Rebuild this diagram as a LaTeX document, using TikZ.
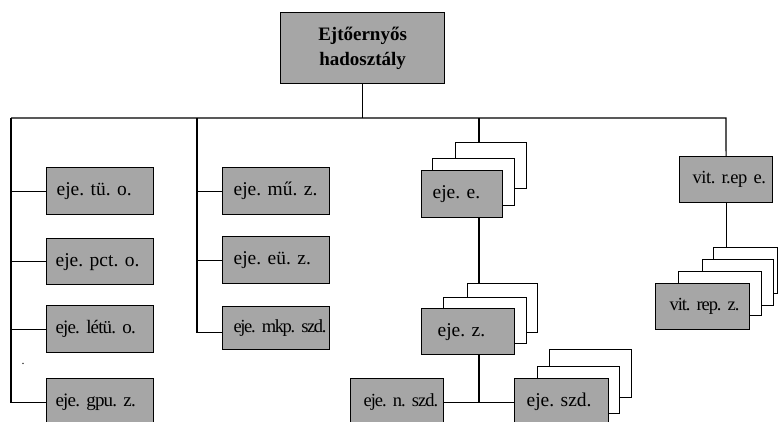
\documentclass[tikz,border=0pt]{standalone}
\usepackage{fontspec}
\setmainfont{Liberation Serif}
\newfontfamily\condfont[WordSpace=0.6]{Liberation Serif}
\definecolor{boxgray}{RGB}{166,166,166}
\tikzset{
  unit/.style={draw=black, line width=1.2pt, fill=boxgray, anchor=north west, inner sep=0pt, align=left},
  card/.style={draw=black, line width=1.2pt, fill=white, anchor=north west, inner sep=0pt},
  link/.style={draw=black, line width=1.2pt},
}
% name, x1, y1, x2, y2, inset, size, family, text
\newcommand{\ubox}[9]{%
  \pgfmathsetmacro{\myw}{#4-#2}\pgfmathsetmacro{\myh}{#5-#3}%
  \pgfmathsetmacro{\myth}{0.68*#7}\pgfmathsetmacro{\mytd}{0.22*#7}%
  \node[unit, minimum height=\myh pt, text width=\myw pt, text height=\myth pt, text depth=\mytd pt,
        font=#8\fontsize{#7}{#7}\selectfont\frenchspacing] (#1) at (#2,#3) {\noindent\hspace*{#6pt}#9};}
% name, x1, y1, x2, y2
\newcommand{\cbox}[5]{%
  \pgfmathsetmacro{\myw}{#4-#2}\pgfmathsetmacro{\myh}{#5-#3}%
  \node[card, minimum width=\myw pt, minimum height=\myh pt] (#1) at (#2,#3) {};}
\newcommand{\cond}[1]{\condfont\addfontfeatures{LetterSpace=#1}}
\begin{document}
\frenchspacing
\begin{tikzpicture}[x=1pt, y=-1pt]
\clip (0,0) rectangle (778,422);
\fill[white] (0,0) rectangle (778,422);

% top unit
\node[unit, align=center, minimum width=164pt, minimum height=71pt,
      font=\bfseries\fontsize{19}{25}\selectfont] (top) at (280,12) {Ejtőernyős\\hadosztály};

% bus coordinates
\coordinate (busL) at (11,118);
\coordinate (busM) at (197,118);
\coordinate (busE) at (479,118);
\coordinate (busR) at (726,118);

% left column
\ubox{tu}{46}{167}{153}{214}{10}{19.5}{\rmfamily}{eje. tü. o.}
\ubox{pct}{46}{238}{153}{284}{9}{19.5}{\rmfamily}{eje. pct. o.}
\ubox{letu}{46}{305}{153}{352}{9}{19}{\cond{-4.5}}{eje. létü. o.}
\ubox{gpu}{46}{378}{153}{425}{9}{19}{\cond{-4.4}}{eje. gpu. z.}
\node[font=\fontsize{12}{12}\selectfont, inner sep=0pt] (dot) at (23,364) {.};

% middle column
\ubox{mu}{222}{167}{329}{214}{11}{19.5}{\rmfamily}{eje. mű. z.}
\ubox{eu}{222}{236}{329}{283}{11}{19.5}{\rmfamily}{eje. eü. z.}
\ubox{mkp}{222}{306}{329}{349}{11}{18.5}{\cond{-7.5}}{eje. mkp. szd.}

% eje. e. stack
\cbox{eeA}{455}{142}{526}{188}
\cbox{eeB}{432}{158}{514}{205}
\ubox{ee}{421}{170}{502}{217}{11}{19.5}{\rmfamily}{eje. e.}

% eje. z. stack
\cbox{ezA}{467}{283}{537}{332}
\cbox{ezB}{443}{297}{526}{343}
\ubox{ez}{421}{308}{514}{354}{16}{19.5}{\rmfamily}{eje. z.}

% bottom row
\ubox{nsz}{350}{378}{443}{425}{13}{18.5}{\cond{-5.5}}{eje. n. szd.}
\cbox{szA}{549}{349}{631}{397}
\cbox{szB}{537}{366}{619}{413}
\ubox{sz}{514}{378}{608}{425}{12}{19.5}{\rmfamily}{eje. szd.}

% right side
\ubox{vre}{679}{156}{772}{202}{13}{18.5}{\cond{-2.5}}{vit. r.ep e.}
\cbox{vrA}{713}{247}{777}{293}
\cbox{vrB}{702}{259}{773}{305}
\cbox{vrC}{678}{271}{761}{315}
\ubox{vrz}{655}{283}{749}{329}{14}{18.5}{\cond{-6}}{vit. rep. z.}

% connectors
\draw[link] (top.south) -- (top.south |- busL);
\draw[link] (busL) -- (busR) -- (vre.north);
\draw[link] (busL) |- (gpu.west);
\draw[link] (busL |- tu.west) -- (tu.west);
\draw[link] (busL |- pct.west) -- (pct.west);
\draw[link] (busL |- letu.west) -- (letu.west);
\draw[link] (busM) |- ([yshift=-4pt]mkp.west);
\draw[link] (busM |- mu.west) -- (mu.west);
\draw[link] (busM |- eu.west) -- (eu.west);
\draw[link] (busE) -- (busE |- eeA.north);
\draw[link] (busE |- ee.south) -- (busE |- ezA.north);
\coordinate (szj) at (479,402);
\draw[link] (busE |- ez.south) -- (szj);
\draw[link] (nsz.east) -- (sz.west);
\draw[link] (vre.south) -- (vre.south |- vrA.north);
\end{tikzpicture}
\end{document}
